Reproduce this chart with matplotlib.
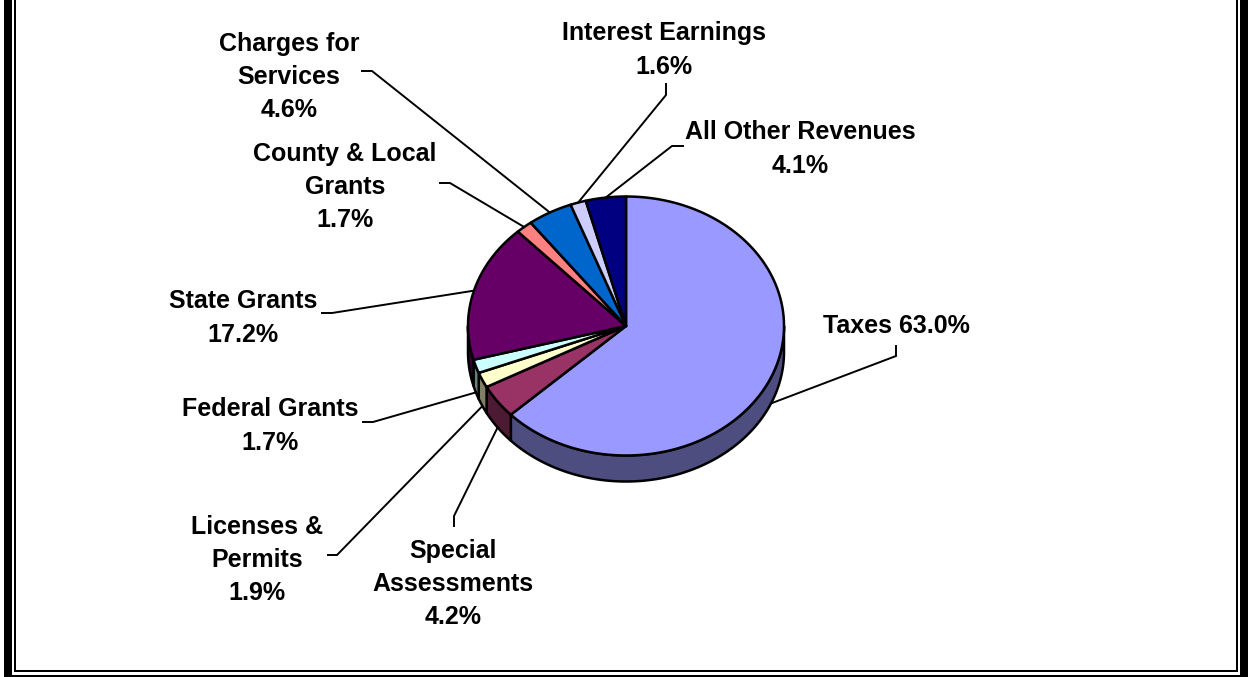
import numpy as np
import matplotlib
matplotlib.use('Agg')
import matplotlib.pyplot as plt
from matplotlib.patches import Polygon, Rectangle
from matplotlib.colors import to_rgb

# ---- data ----
categories = ['Taxes', 'Special\nAssessments', 'Licenses &\nPermits', 'Federal Grants',
              'State Grants', 'County & Local\nGrants', 'Charges for\nServices',
              'Interest Earnings', 'All Other Revenues']
values = [63.0, 4.2, 1.9, 1.7, 17.2, 1.7, 4.6, 1.6, 4.1]
colors = ['#9999FF', '#993366', '#FFFFCC', '#CCFFFF', '#660066', '#FF8080',
          '#0066CC', '#CCCCFF', '#000080']

# ---- layout ----
W, H = 1257, 677
fig = plt.figure(figsize=(W / 100, H / 100), dpi=100)
ax = fig.add_axes([0, 0, 1, 1])
ax.set_xlim(0, W)
ax.set_ylim(H, 0)
ax.axis('off')

cx, cy, rx, ry, depth = 626, 326, 158, 129.5, 26


def pt(theta):
    t = np.radians(theta)
    return cx + rx * np.sin(t), cy - ry * np.cos(t)


def arc(a0, a1, n=None):
    n = n or max(int(abs(a1 - a0) * 2) + 2, 3)
    th = np.linspace(a0, a1, n)
    t = np.radians(th)
    return np.column_stack([cx + rx * np.sin(t), cy - ry * np.cos(t)])


total = sum(values)
angles = np.cumsum([0] + [v / total * 360 for v in values])

# side walls
for i, v in enumerate(values):
    a0, a1 = angles[i], angles[i + 1]
    lo, hi = max(a0, 90), min(a1, 270)
    if hi > lo:
        top = arc(lo, hi)
        bot = top[::-1] + np.array([0, depth])
        side = np.vstack([top, bot])
        dark = tuple(c * 0.5 for c in to_rgb(colors[i]))
        ax.add_patch(Polygon(side, closed=True, facecolor=dark, edgecolor='black',
                             lw=1.8, joinstyle='round', zorder=2))

# top faces
for i, v in enumerate(values):
    a0, a1 = angles[i], angles[i + 1]
    poly = np.vstack([[cx, cy], arc(a0, a1)])
    ax.add_patch(Polygon(poly, closed=True, facecolor=colors[i], edgecolor='black',
                         lw=1.8, joinstyle='round', zorder=3))

# labels and leader lines
text_pos = [(896, 326), (453, 584), (257, 560), (270, 426), (243, 318),
            (345, 187), (289, 77), (664, 50), (800, 149)]
starts = [(896, 346), (454, 526), (328, 555), (363, 422), (322, 313),
          (440, 183), (362, 71), (666, 84), (683, 146)]
knees = [(896, 356), (454, 516), (337, 555), (373, 422), (332, 313),
         (450, 183), (372, 71), (666, 95), (672, 146)]

for i, v in enumerate(values):
    mid = (angles[i] + angles[i + 1]) / 2
    ex, ey = pt(mid)
    if 90 < mid < 270:
        ey += depth
    sx, sy = starts[i]
    kx, ky = knees[i]
    ax.plot([sx, kx, ex], [sy, ky, ey], color='black', lw=1.4, zorder=4,
            solid_joinstyle='miter')
    sep = ' ' if i == 0 else '\n'
    txt = f'{categories[i]}{sep}{v:.1f}%'
    tx, ty = text_pos[i]
    ax.text(tx, ty, txt, ha='center', va='center', multialignment='center',
            fontsize=18, fontweight='bold', family=['Liberation Sans', 'DejaVu Sans'],
            linespacing=1.48, zorder=5)

# frame
for (x, y, w, h) in [(4, 0, 8, H), (1240, 0, 8, H), (4, 675, 1244, 4),
                     (14, 0, 2, 672), (1236, 0, 2, 672), (14, 670, 1224, 2)]:
    ax.add_patch(Rectangle((x, y), w, h, facecolor='black', edgecolor='none', zorder=6))

fig.savefig('out.png', dpi=100)
